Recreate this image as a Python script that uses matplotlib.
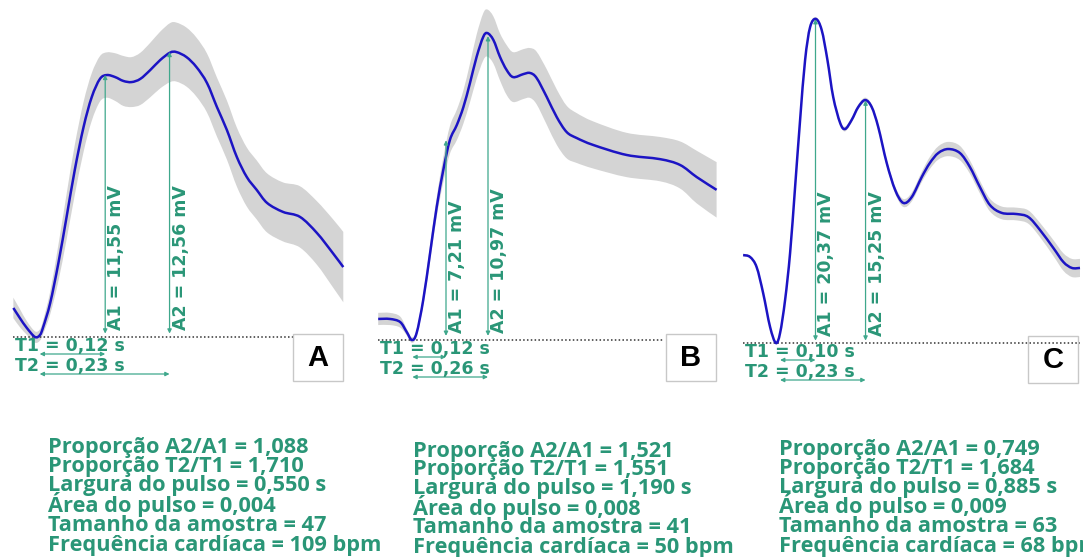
import matplotlib
matplotlib.use("Agg")
import matplotlib.pyplot as plt
import matplotlib.transforms as mtransforms
from matplotlib.patches import Rectangle, PathPatch
from matplotlib.path import Path

W, H = 1083, 557

# --- panel A: mean pulse (s, mV) and its spread
t_a = [-0.037, -0.026, -0.014, 0, 0.0085, 0.014, 0.026, 0.040, 0.054, 0.068, 0.083, 0.097,
       0.111, 0.123, 0.137, 0.151, 0.165, 0.180, 0.197, 0.214, 0.231, 0.242, 0.259, 0.276,
       0.294, 0.311, 0.328, 0.345, 0.362, 0.379, 0.397, 0.424, 0.453, 0.482, 0.509, 0.527]
v_a = [1.28, 0.84, 0.40, 0.00, 0.09, 0.44, 1.50, 3.26, 5.29, 7.36, 9.25, 10.57,
       11.37, 11.54, 11.45, 11.28, 11.23, 11.37, 11.76, 12.20, 12.53, 12.55, 12.33, 11.89,
       11.19, 10.13, 9.12, 7.93, 7.05, 6.48, 5.90, 5.51, 5.29, 4.58, 3.70, 3.08]
sd_a = [0.45, 0.4, 0.3, 0.25, 0.25, 0.3, 0.5, 0.8, 1.0, 1.1, 1.1, 1.05,
        1.0, 1.0, 1.05, 1.1, 1.1, 1.15, 1.2, 1.25, 1.3, 1.3, 1.3, 1.3,
        1.3, 1.3, 1.3, 1.3, 1.3, 1.3, 1.3, 1.3, 1.35, 1.4, 1.5, 1.55]

# --- panel B
t_b = [-0.106, -0.067, -0.033, -0.011, 0.006, 0.022, 0.044, 0.067, 0.089, 0.111, 0.133,
       0.156, 0.178, 0.200, 0.222, 0.244, 0.258, 0.278, 0.300, 0.322, 0.344, 0.378, 0.400,
       0.422, 0.456, 0.489, 0.522, 0.556, 0.611, 0.722, 0.833, 0.900, 0.956, 1.022]
v_b = [0.76, 0.76, 0.65, 0.29, 0.00, 0.25, 1.44, 3.14, 4.80, 6.14, 7.22,
       7.76, 8.41, 9.28, 10.22, 10.94, 11.08, 10.83, 10.22, 9.75, 9.49, 9.60, 9.64,
       9.46, 8.77, 8.05, 7.51, 7.29, 7.04, 6.68, 6.53, 6.32, 5.88, 5.42]
sd_b = [0.22, 0.22, 0.2, 0.12, 0.1, 0.12, 0.2, 0.3, 0.35, 0.45, 0.5,
        0.55, 0.6, 0.7, 0.8, 0.85, 0.85, 0.85, 0.85, 0.9, 0.9, 0.9, 0.9,
        0.95, 1.0, 1.0, 0.95, 0.9, 0.85, 0.8, 0.8, 0.85, 0.95, 1.0]

# --- panel C
t_c = [-0.088, -0.070, -0.053, -0.036, -0.018, -0.003, 0.008, 0.021, 0.034, 0.047, 0.060,
       0.073, 0.086, 0.101, 0.116, 0.131, 0.146, 0.164, 0.177, 0.194, 0.211, 0.229, 0.246,
       0.263, 0.285, 0.307, 0.328, 0.350, 0.376, 0.397, 0.419, 0.445, 0.475, 0.501, 0.527,
       0.553, 0.584, 0.623, 0.653, 0.683, 0.718, 0.744, 0.766, 0.787]
v_c = [5.53, 5.41, 4.78, 3.14, 1.01, 0.00, 0.63, 2.70, 5.66, 9.81, 14.03,
       17.80, 19.87, 20.38, 19.69, 17.80, 15.47, 13.84, 13.46, 14.03, 14.84, 15.28, 14.84,
       13.58, 11.32, 9.62, 8.81, 9.18, 10.44, 11.32, 11.95, 12.20, 11.95, 11.07, 9.81,
       8.68, 8.18, 8.11, 7.92, 7.11, 5.97, 5.09, 4.72, 4.72]
sd_c = [0.08, 0.08, 0.08, 0.08, 0.08, 0.08, 0.08, 0.08, 0.08, 0.08, 0.1,
        0.12, 0.12, 0.12, 0.12, 0.12, 0.12, 0.12, 0.15, 0.15, 0.15, 0.15, 0.15,
        0.18, 0.2, 0.22, 0.25, 0.28, 0.32, 0.38, 0.42, 0.45, 0.45, 0.42, 0.4,
        0.4, 0.4, 0.4, 0.42, 0.45, 0.5, 0.55, 0.57, 0.57]

labels = ["A", "B", "C"]
A1 = [11.55, 7.21, 20.37]
A2 = [12.56, 10.97, 15.25]
T1 = [0.12, 0.12, 0.10]
T2 = [0.23, 0.26, 0.23]

stats = [
    ["Proporção A2/A1 = 1,088", "Proporção T2/T1 = 1,710", "Largura do pulso = 0,550 s",
     "Área do pulso = 0,004", "Tamanho da amostra = 47", "Frequência cardíaca = 109 bpm"],
    ["Proporção A2/A1 = 1,521", "Proporção T2/T1 = 1,551", "Largura do pulso = 1,190 s",
     "Área do pulso = 0,008", "Tamanho da amostra = 41", "Frequência cardíaca = 50 bpm"],
    ["Proporção A2/A1 = 0,749", "Proporção T2/T1 = 1,684", "Largura do pulso = 0,885 s",
     "Área do pulso = 0,009", "Tamanho da amostra = 63", "Frequência cardíaca = 68 bpm"],
]

curves = [(t_a, v_a, sd_a), (t_b, v_b, sd_b), (t_c, v_c, sd_c)]

# layout: panel box in px, origin px of (t=0, v=0), px per second, px per mV
boxes = [(0, 362), (362, 728), (728, 1083)]
origin = [(35, 337), (410, 340), (777, 343)]
px_s = [585, 300, 385]
px_mv = [22.7, 27.7, 15.9]
base_end = [293, 663, 1080]
tag_box = [(293, 334), (666, 334), (1028, 336)]
stat_x = [48, 413, 779]
stat_y = [[453, 472, 491, 512, 531, 551],
          [457, 475, 494, 515, 533, 553],
          [455, 474, 493, 513, 532, 552]]

BLUE = "#1c14c4"
BAND = "#d4d4d4"
TEAL = "#2a9677"
ARROW = "#3fa88c"


def smooth_path(xs, ys):
    # bezier path through the read points (catmull-rom style handles)
    pts = list(zip(xs, ys))
    n = len(pts)
    verts = [pts[0]]
    codes = [Path.MOVETO]
    for j in range(n - 1):
        p0 = pts[max(j - 1, 0)]
        p1 = pts[j]
        p2 = pts[j + 1]
        p3 = pts[min(j + 2, n - 1)]
        c1 = (p1[0] + (p2[0] - p0[0]) / 6, p1[1] + (p2[1] - p0[1]) / 6)
        c2 = (p2[0] - (p3[0] - p1[0]) / 6, p2[1] - (p3[1] - p1[1]) / 6)
        verts += [c1, c2, p2]
        codes += [Path.CURVE4] * 3
    return verts, codes


fig = plt.figure(figsize=(W / 100, H / 100), dpi=100)
fig.patch.set_facecolor("white")

for i in range(3):
    x0, x1 = boxes[i]
    xo, yo = origin[i]
    sx, sy = px_s[i], px_mv[i]
    ax = fig.add_axes([x0 / W, 1 - 420 / H, (x1 - x0) / W, 420 / H])
    ax.set_xlim((x0 - xo) / sx, (x1 - xo) / sx)
    ax.set_ylim((yo - 420) / sy, yo / sy)
    ax.axis("off")

    t, v, sd = curves[i]
    lo = [a - b for a, b in zip(v, sd)]
    hi = [a + b for a, b in zip(v, sd)]
    vu, cu = smooth_path(t, hi)
    vl, cl = smooth_path(t[::-1], lo[::-1])
    cl[0] = Path.LINETO
    band = Path(vu + vl + [vu[0]], cu + cl + [Path.CLOSEPOLY])
    ax.add_patch(PathPatch(band, facecolor=BAND, edgecolor="none", zorder=1))
    vm, cm = smooth_path(t, v)
    ax.add_patch(PathPatch(Path(vm, cm), facecolor="none", edgecolor=BLUE,
                           lw=1.8, zorder=3, joinstyle="round"))

    # dotted baseline
    ax.plot([t[0], (base_end[i] - xo) / sx], [0, 0], color="#333333", lw=1.1,
            ls=(0, (1, 1.5)), zorder=2)

    aprops = dict(arrowstyle="<|-|>", color=ARROW, lw=0.9,
                  mutation_scale=6, shrinkA=0, shrinkB=0)
    for tt, amp, name in [(T1[i], A1[i], "A1"), (T2[i], A2[i], "A2")]:
        ax.annotate("", xy=(tt, amp), xytext=(tt, 0.15), arrowprops=aprops, zorder=4)
        tr = mtransforms.offset_copy(ax.transData, fig=fig, x=11, y=7, units="dots")
        txt = f"{name} = {amp:.2f} mV".replace(".", ",")
        ax.text(tt, 0, txt, transform=tr, rotation=90, ha="center", va="bottom",
                color=TEAL, fontsize=12.5, fontweight="bold", zorder=5)

    for k, (tt, name) in enumerate([(T1[i], "T1"), (T2[i], "T2")]):
        dy = -17 - 20 * k
        tr = mtransforms.offset_copy(ax.transData, fig=fig, y=dy, units="dots")
        ax.annotate("", xy=(tt, 0), xytext=(0.008, 0), xycoords=tr, textcoords=tr,
                    arrowprops=aprops, zorder=4)
        tr2 = mtransforms.offset_copy(ax.transData, fig=fig, x=2, y=-9 - 20 * k, units="dots")
        ax.text(t[0], 0, f"{name} = {tt:.2f} s".replace(".", ","), transform=tr2,
                ha="left", va="center", color=TEAL, fontsize=12.5, fontweight="bold", zorder=5)

    bx, by = tag_box[i]
    fig.add_artist(Rectangle((bx / W, 1 - (by + 47) / H), 50 / W, 47 / H,
                             transform=fig.transFigure, fill=False,
                             edgecolor="#c8c8c8", lw=1))
    fig.text((bx + 25) / W, 1 - (by + 24) / H, labels[i], ha="center", va="center",
             fontsize=21, fontweight="bold", family="Liberation Sans", color="black")

    for line, yy in zip(stats[i], stat_y[i]):
        fig.text(stat_x[i] / W, 1 - yy / H, line, ha="left", va="baseline",
                 fontsize=15.7, fontweight="bold", family="Open Sans", color=TEAL)

fig.savefig("out.png", dpi=100, facecolor="white")
